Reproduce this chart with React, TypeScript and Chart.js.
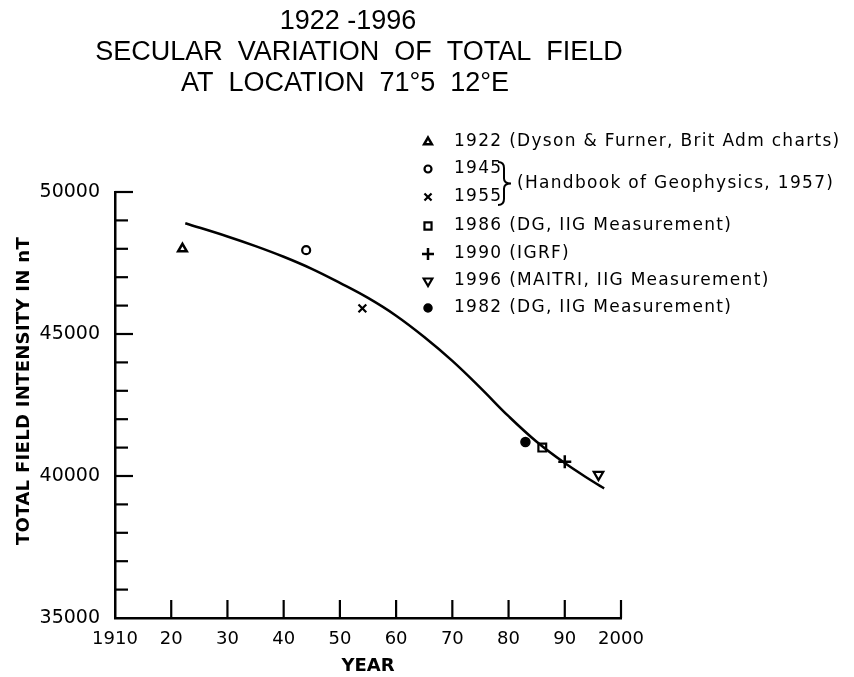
import React, { useEffect, useRef } from 'react';
import { Chart, registerables } from 'chart.js';
import { drawPoint } from 'chart.js/helpers';

Chart.register(...registerables);

// ---- text ----
const titleLines = ['1922 -1996', 'SECULAR  VARIATION  OF  TOTAL  FIELD', 'AT  LOCATION  71°5  12°E'];
const yTitle = 'TOTAL FIELD INTENSITY IN nT';
const xTitle = 'YEAR';
const braceText = '(Handbook of Geophysics, 1957)';

// ---- smooth secular-variation curve ----
const curveYears = [1922.5, 1930, 1935, 1940, 1945, 1950, 1955, 1960, 1965, 1970, 1975, 1980, 1985, 1990, 1995, 1997];
const curveValues = [48900, 48435, 48095, 47720, 47295, 46800, 46270, 45645, 44895, 44055, 43105, 42105, 41205, 40455, 39805, 39565];

// ---- observations ----
const obsLegend = [
  '1922 (Dyson & Furner, Brit Adm charts)',
  '1945',
  '1955',
  '1986 (DG, IIG Measurement)',
  '1990 (IGRF)',
  '1996 (MAITRI, IIG Measurement)',
  '1982 (DG, IIG Measurement)',
];
const obsYears = [1922, 1944, 1954, 1986, 1990, 1996, 1983];
const obsValues = [48000, 47950, 45900, 41000, 40500, 40050, 41200];

// ---- axis ----
const xMin = 1910, xMax = 2000, xStep = 10;
const yMin = 35000, yMax = 50000, yStep = 1000, yLabelStep = 5000;

// marker styles (separate from data)
const markerStyles: any[] = [
  { pointStyle: 'triangle', radius: 5, borderWidth: 2.5, rotation: 0, fill: '#fff' },
  { pointStyle: 'circle', radius: 4, borderWidth: 2.2, rotation: 0, fill: '#fff' },
  { pointStyle: 'crossRot', radius: 5.5, borderWidth: 2.2, rotation: 0, fill: '#000' },
  { pointStyle: 'rect', radius: 5.5, borderWidth: 2.2, rotation: 0, fill: '#fff' },
  { pointStyle: 'cross', radius: 6.5, borderWidth: 2.5, rotation: 0, fill: '#000' },
  { pointStyle: 'triangle', radius: 5.5, borderWidth: 2.2, rotation: 180, fill: '#fff' },
  { pointStyle: 'circle', radius: 4.5, borderWidth: 1.5, rotation: 0, fill: '#000' },
];

const legendMarkerX = 428;
const legendTextX = 454;
const legendRowYs = [142, 169, 197, 226, 254, 281, 308];

const decorPlugin = {
  id: 'decor',
  afterDatasetsDraw(chart: any) {
    const { ctx, chartArea, scales } = chart;
    const x = scales.x, y = scales.y;
    ctx.save();
    ctx.strokeStyle = '#000';
    ctx.lineWidth = 2.2;
    // inward ticks
    y.ticks.forEach((t: any) => {
      if (t.value === yMin) return;
      const py = y.getPixelForValue(t.value);
      const len = t.value % yLabelStep === 0 ? 18 : 13;
      ctx.beginPath();
      ctx.moveTo(chartArea.left, py);
      ctx.lineTo(chartArea.left + len, py);
      ctx.stroke();
    });
    x.ticks.forEach((t: any) => {
      if (t.value === xMin) return;
      const px = x.getPixelForValue(t.value);
      ctx.beginPath();
      ctx.moveTo(px, chartArea.bottom);
      ctx.lineTo(px, chartArea.bottom - 18);
      ctx.stroke();
    });
    ctx.restore();
  },
  afterDraw(chart: any) {
    const { ctx } = chart;
    ctx.save();
    ctx.fillStyle = '#000';
    // title
    ctx.font = '27px "Liberation Sans", Arial, sans-serif';
    ctx.textAlign = 'center';
    ctx.textBaseline = 'middle';
    const tx = [348, 359, 345];
    const ty = [22, 53, 84];
    titleLines.forEach((l, i) => ctx.fillText(l, tx[i], ty[i]));

    // y title
    ctx.save();
    ctx.translate(24, 391);
    ctx.rotate(-Math.PI / 2);
    ctx.font = 'bold 18px "DejaVu Sans"';
    (ctx as any).letterSpacing = '0.3px';
    ctx.fillText(yTitle, 0, 0);
    ctx.restore();

    // legend
    ctx.font = '17px "DejaVu Sans"';
    (ctx as any).letterSpacing = '1.3px';
    ctx.textAlign = 'left';
    ctx.textBaseline = 'middle';
    obsLegend.forEach((label, i) => {
      const st = markerStyles[i];
      ctx.save();
      ctx.strokeStyle = '#000';
      ctx.fillStyle = st.fill;
      ctx.lineWidth = st.borderWidth;
      drawPoint(ctx, { pointStyle: st.pointStyle, rotation: st.rotation, radius: st.radius - 0.5, borderWidth: st.borderWidth }, legendMarkerX, legendRowYs[i]);
      ctx.restore();
      ctx.fillStyle = '#000';
      ctx.fillText(label, legendTextX, legendRowYs[i]);
    });
    // brace
    ctx.strokeStyle = '#000';
    ctx.lineWidth = 2;
    ctx.beginPath();
    const bx = 500, top = legendRowYs[1] - 7, bot = legendRowYs[2] + 8, mid = (top + bot) / 2;
    ctx.moveTo(bx - 2, top);
    ctx.quadraticCurveTo(bx + 4, top, bx + 4, top + 6);
    ctx.lineTo(bx + 4, mid - 5);
    ctx.quadraticCurveTo(bx + 4, mid, bx + 11, mid);
    ctx.quadraticCurveTo(bx + 4, mid, bx + 4, mid + 5);
    ctx.lineTo(bx + 4, bot - 6);
    ctx.quadraticCurveTo(bx + 4, bot, bx - 2, bot);
    ctx.stroke();
    ctx.fillText(braceText, 517, mid);
    ctx.restore();
  },
};

export default function App() {
  const ref = useRef<HTMLCanvasElement | null>(null);
  useEffect(() => {
    document.body.style.margin = '0';
    const canvas = ref.current;
    if (!canvas) return;
    Chart.defaults.color = '#000';
    Chart.defaults.font.family = '"DejaVu Sans"';

    const datasets: any[] = [
      {
        label: 'curve',
        data: curveYears.map((yr, i) => ({ x: yr, y: curveValues[i] })),
        showLine: true,
        borderColor: '#000',
        borderWidth: 2.5,
        pointRadius: 0,
        tension: 0.4,
        fill: false,
        clip: false,
      },
      ...obsYears.map((yr, i) => {
        const st = markerStyles[i];
        return {
          label: obsLegend[i],
          data: [{ x: yr, y: obsValues[i] }],
          pointStyle: st.pointStyle,
          pointRadius: st.radius,
          pointRotation: st.rotation,
          pointBorderWidth: st.borderWidth,
          pointBorderColor: '#000',
          pointBackgroundColor: st.fill,
          borderColor: '#000',
          backgroundColor: st.fill,
          clip: false,
        };
      }),
    ];

    const chart = new Chart(canvas, {
      type: 'scatter',
      data: { datasets },
      plugins: [decorPlugin],
      options: {
        animation: false,
        responsive: false,
        devicePixelRatio: 1,
        layout: { padding: { left: 0, top: 192, right: 233, bottom: 0 } },
        plugins: { legend: { display: false }, tooltip: { enabled: false }, title: { display: false } },
        scales: {
          x: {
            type: 'linear',
            min: xMin,
            max: xMax,
            grid: { display: false, drawTicks: false },
            border: { display: true, color: '#000', width: 2.5 },
            ticks: {
              stepSize: xStep,
              padding: 11,
              font: { size: 18, family: '"DejaVu Sans"' },
              color: '#000',
              callback: (v: any) => (v === xMin || v === xMax ? String(v) : String(v % 100)),
            },
            title: { display: true, text: xTitle, font: { size: 18, weight: 'bold', family: '"DejaVu Sans"' }, padding: { top: 0, bottom: 0 }, color: '#000' },
            afterFit: (s: any) => { s.height = 59; },
          },
          y: {
            type: 'linear',
            min: yMin,
            max: yMax,
            grid: { display: false, drawTicks: false },
            border: { display: true, color: '#000', width: 2.5 },
            ticks: {
              stepSize: yStep,
              padding: 15,
              autoSkip: false,
              font: { size: 19, family: '"DejaVu Sans"' },
              color: '#000',
              callback: (v: any) => (v % yLabelStep === 0 ? String(v) : ''),
            },
            afterFit: (s: any) => { s.width = 115; },
          },
        },
      } as any,
    });
    return () => chart.destroy();
  }, []);
  return <canvas ref={ref} width={854} height={677} style={{ display: 'block' }} />;
}
